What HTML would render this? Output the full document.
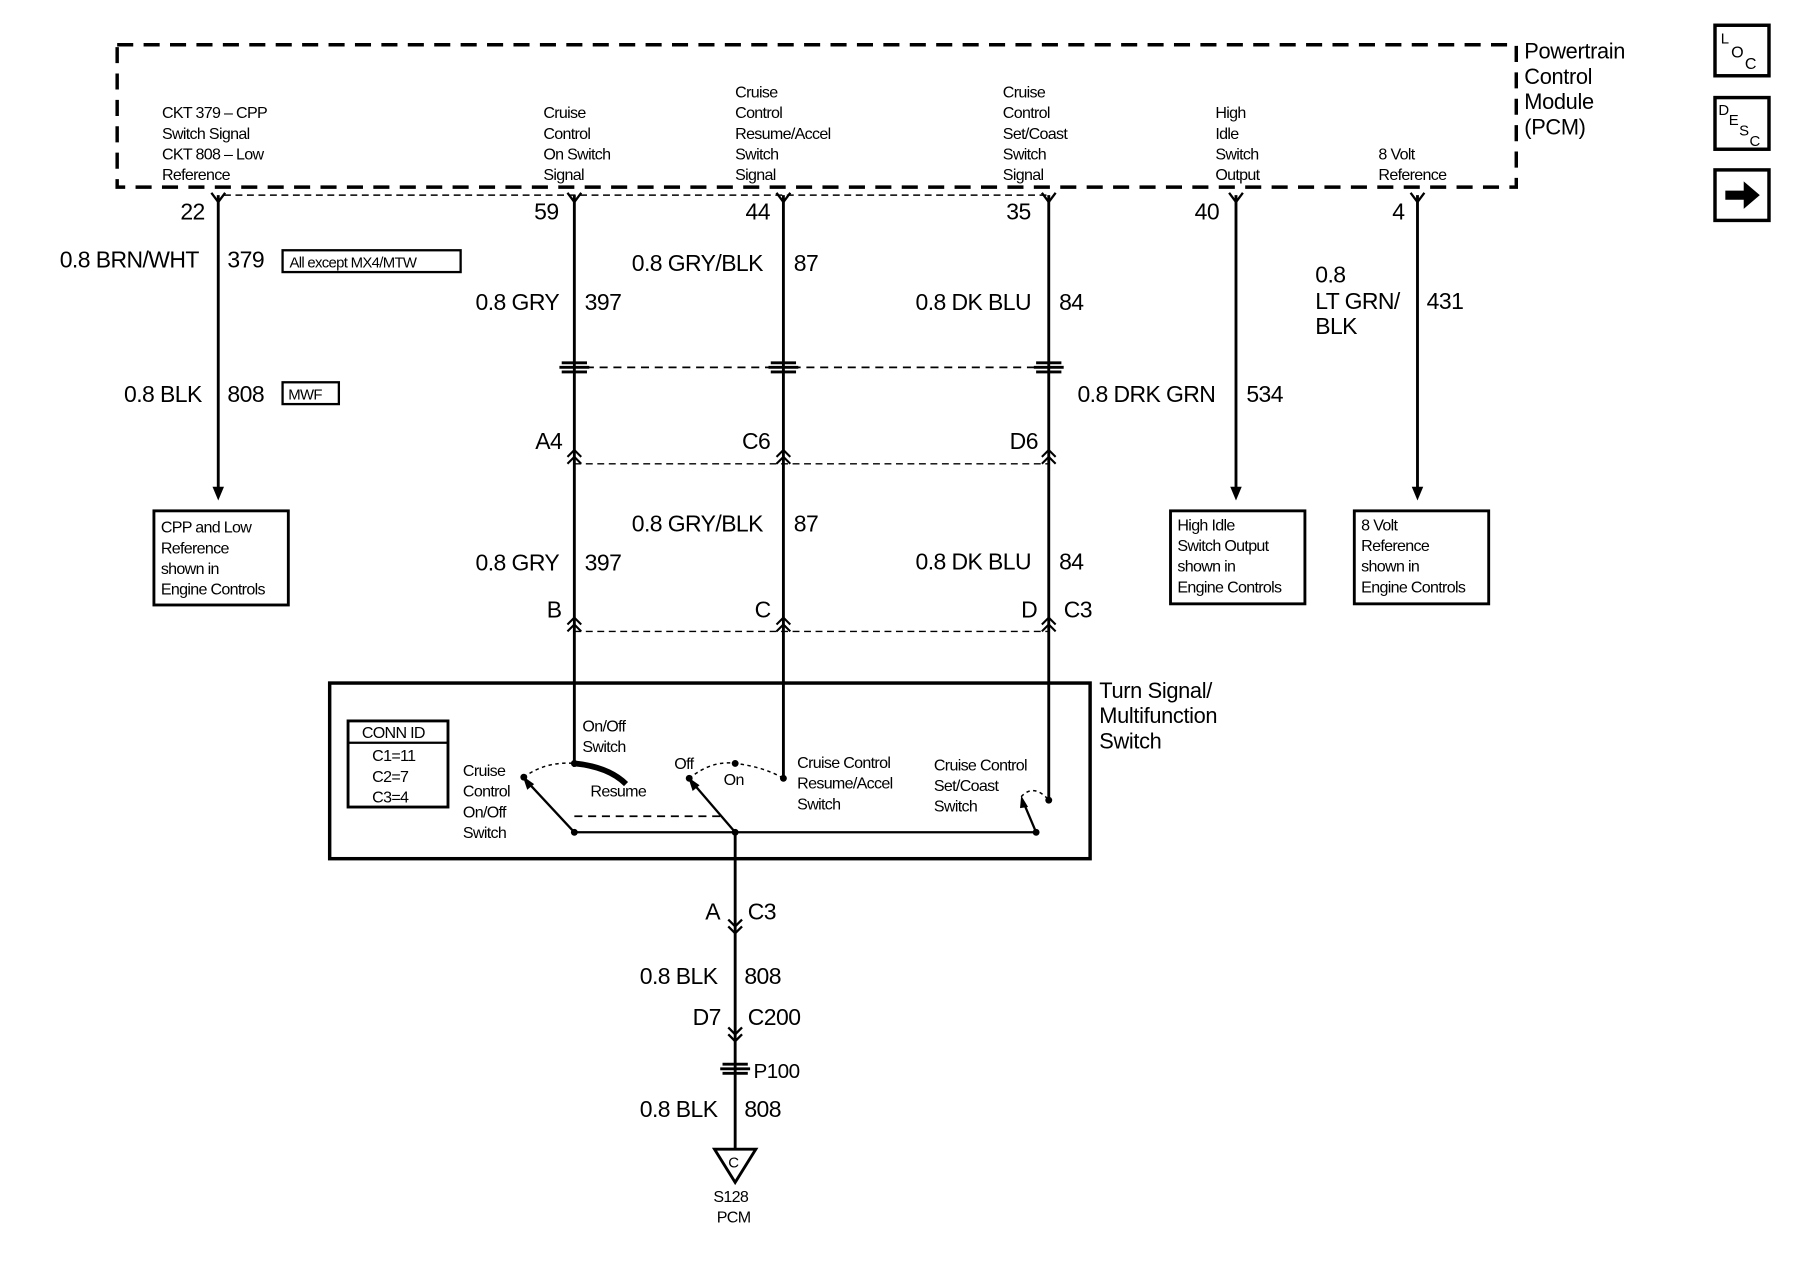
<!DOCTYPE html>
<html><head><meta charset="utf-8">
<style>
html,body{margin:0;padding:0;background:#fff;}
svg{display:block;}
text{font-family:"Liberation Sans",sans-serif;fill:#000;}
.s{font-size:14px;letter-spacing:-0.6px;}
.b{font-size:20px;letter-spacing:-0.5px;}
.m{font-size:19px;letter-spacing:-0.3px;}
</style></head><body>
<svg width="1800" height="1280" viewBox="0 0 1567 1115" preserveAspectRatio="none" xmlns="http://www.w3.org/2000/svg">
<g stroke="#000" fill="none">
<rect x="102" y="39" width="1218" height="124" stroke-width="3" stroke-dasharray="14,9"/>
<line x1="195" y1="170" x2="913" y2="170" stroke-width="1.3" stroke-dasharray="6,4"/>
<g stroke-width="2.5">
<line x1="190" y1="170" x2="190" y2="425"/>
<line x1="500" y1="170" x2="500" y2="395"/>
<line x1="682" y1="170" x2="682" y2="395"/>
<line x1="913" y1="170" x2="913" y2="395"/>
<line x1="1076" y1="170" x2="1076" y2="425"/>
<line x1="1234" y1="170" x2="1234" y2="425"/>
<line x1="500" y1="395" x2="500" y2="668"/>
<line x1="682" y1="395" x2="682" y2="678"/>
<line x1="913" y1="395" x2="913" y2="697"/>
<line x1="640" y1="725" x2="640" y2="1000"/>
</g>
<g stroke-width="2">
<path d="M184 168 L190 176 L196 168"/><path d="M494 168 L500 176 L506 168"/>
<path d="M676 168 L682 176 L688 168"/><path d="M907 168 L913 176 L919 168"/>
<path d="M1070 168 L1076 176 L1082 168"/><path d="M1228 168 L1234 176 L1240 168"/>
</g>
<line x1="510" y1="320" x2="902" y2="320" stroke-width="1.5" stroke-dasharray="7,5"/>
<g stroke-width="2.5">
<path d="M489 316 h22 M489 324 h22 M487 320 h26"/>
<path d="M671 316 h22 M671 324 h22 M669 320 h26"/>
<path d="M902 316 h22 M902 324 h22 M900 320 h26"/>
<path d="M629 927 h22 M629 935 h22 M627 931 h26"/>
</g>
<line x1="500" y1="404" x2="913" y2="404" stroke-width="1.2" stroke-dasharray="6,4"/>
<line x1="500" y1="550" x2="913" y2="550" stroke-width="1.2" stroke-dasharray="6,4"/>
<g stroke-width="1.8">
<path d="M494 398 L500 392 L506 398 M494 404 L500 398 L506 404"/>
<path d="M676 398 L682 392 L688 398 M676 404 L682 398 L688 404"/>
<path d="M907 398 L913 392 L919 398 M907 404 L913 398 L919 404"/>
<path d="M494 544 L500 538 L506 544 M494 550 L500 544 L506 550"/>
<path d="M676 544 L682 538 L688 544 M676 550 L682 544 L688 550"/>
<path d="M907 544 L913 538 L919 544 M907 550 L913 544 L919 550"/>
<path d="M634 801 L640 807 L646 801 M634 807 L640 813 L646 807" stroke-width="2"/>
<path d="M634 895 L640 901 L646 895 M634 901 L640 907 L646 901" stroke-width="2"/>
</g>
<g fill="#000" stroke="none">
<path d="M185 424 L195 424 L190 436Z"/><path d="M1071 424 L1081 424 L1076 436Z"/><path d="M1229 424 L1239 424 L1234 436Z"/>
</g>
<g stroke-width="2.5">
<rect x="134" y="445" width="117" height="82"/>
<rect x="1019" y="445" width="117" height="81"/>
<rect x="1179" y="445" width="117" height="81"/>
<rect x="246" y="218" width="155" height="19" stroke-width="2"/>
<rect x="246" y="333" width="49" height="19" stroke-width="2"/>
<rect x="287" y="595" width="662" height="153" stroke-width="3"/>
<rect x="303" y="628" width="87" height="75" stroke-width="2.5"/>
<line x1="303" y1="647" x2="390" y2="647" stroke-width="2"/>
</g>
<line x1="500" y1="725" x2="902" y2="725" stroke-width="2"/>
<line x1="500" y1="711" x2="632" y2="711" stroke-width="1.5" stroke-dasharray="7,5"/>
<path d="M456 677 Q475 663 500 665" stroke-width="1.3" stroke-dasharray="3,3"/>
<path d="M500 665 Q530 668 545 683" stroke-width="5"/>
<path d="M600 678 Q620 662 640 665 Q665 668 682 678" stroke-width="1.3" stroke-dasharray="3,3"/>
<path d="M889 694 Q900 682 913 697" stroke-width="1.3" stroke-dasharray="3,3"/>
<g stroke-width="2">
<line x1="500" y1="725" x2="460" y2="682"/>
<line x1="640" y1="725" x2="604" y2="683"/>
<line x1="902" y1="725" x2="891" y2="699"/>
</g>
<g fill="#000" stroke="none">
<path d="M455 676 L465 683 L459 688Z"/><path d="M599 677 L609 684 L603 689Z"/><path d="M889 693 L895 703 L888 704Z"/>
<circle cx="500" cy="725" r="3"/><circle cx="640" cy="725" r="3"/><circle cx="902" cy="725" r="3"/>
<circle cx="456" cy="677" r="3"/><circle cx="500" cy="665" r="3"/><circle cx="600" cy="678" r="3"/>
<circle cx="640" cy="665" r="3"/><circle cx="682" cy="678" r="3"/><circle cx="913" cy="697" r="3"/>
</g>
<path d="M622 1001 L658 1001 L640 1030Z" stroke-width="2.5"/>
<g stroke-width="3">
<rect x="1493" y="22" width="47" height="44"/>
<rect x="1493" y="85" width="47" height="45"/>
<rect x="1493" y="148" width="47" height="44"/>
</g>
<path d="M1502 166 h16 v-8 l14 12 l-14 12 v-8 h-16Z" fill="#000" stroke="none"/>
</g>

<text class="m" x="1327" y="51">Powertrain</text>
<text class="m" x="1327" y="73">Control</text>
<text class="m" x="1327" y="95">Module</text>
<text class="m" x="1327" y="117">(PCM)</text>
<g class="s">
<text x="141" y="103">CKT 379 – CPP</text><text x="141" y="121">Switch Signal</text>
<text x="141" y="139">CKT 808 – Low</text><text x="141" y="157">Reference</text>
<text x="473" y="103">Cruise</text><text x="473" y="121">Control</text><text x="473" y="139">On Switch</text><text x="473" y="157">Signal</text>
<text x="640" y="85">Cruise</text><text x="640" y="103">Control</text><text x="640" y="121">Resume/Accel</text><text x="640" y="139">Switch</text><text x="640" y="157">Signal</text>
<text x="873" y="85">Cruise</text><text x="873" y="103">Control</text><text x="873" y="121">Set/Coast</text><text x="873" y="139">Switch</text><text x="873" y="157">Signal</text>
<text x="1058" y="103">High</text><text x="1058" y="121">Idle</text><text x="1058" y="139">Switch</text><text x="1058" y="157">Output</text>
<text x="1200" y="139">8 Volt</text><text x="1200" y="157">Reference</text>
<text x="252" y="233" style="font-size:13px">All except MX4/MTW</text>
<text x="251" y="348" style="font-size:13px">MWF</text>
<text x="140" y="464">CPP and Low</text><text x="140" y="482">Reference</text><text x="140" y="500">shown in</text><text x="140" y="518">Engine Controls</text>
<text x="1025" y="462">High Idle</text><text x="1025" y="480">Switch Output</text><text x="1025" y="498">shown in</text><text x="1025" y="516">Engine Controls</text>
<text x="1185" y="462">8 Volt</text><text x="1185" y="480">Reference</text><text x="1185" y="498">shown in</text><text x="1185" y="516">Engine Controls</text>
<text x="315" y="643">CONN ID</text>
<text x="324" y="663">C1=11</text><text x="324" y="681">C2=7</text><text x="324" y="699">C3=4</text>
<text x="507" y="637">On/Off</text><text x="507" y="655">Switch</text>
<text x="514" y="694">Resume</text>
<text x="403" y="676">Cruise</text><text x="403" y="694">Control</text><text x="403" y="712">On/Off</text><text x="403" y="730">Switch</text>
<text x="587" y="670">Off</text><text x="630" y="684">On</text>
<text x="694" y="669">Cruise Control</text><text x="694" y="687">Resume/Accel</text><text x="694" y="705">Switch</text>
<text x="813" y="671">Cruise Control</text><text x="813" y="689">Set/Coast</text><text x="813" y="707">Switch</text>
<text x="621" y="1047">S128</text><text x="624" y="1065">PCM</text>
<text x="634" y="1017" style="font-size:13px">C</text>
</g>
<text class="m" x="957" y="608">Turn Signal/</text>
<text class="m" x="957" y="630">Multifunction</text>
<text class="m" x="957" y="652">Switch</text>
<text x="1498" y="38" style="font-size:13px">L</text><text x="1507" y="50" style="font-size:14px">O</text><text x="1519" y="60" style="font-size:14px">C</text>
<text x="1496" y="100" style="font-size:13px">D</text><text x="1505" y="109" style="font-size:13px">E</text><text x="1514" y="118" style="font-size:13px">S</text><text x="1523" y="127" style="font-size:13px">C</text>

<g class="b">
<text x="157" y="191">22</text><text x="465" y="191">59</text><text x="649" y="191">44</text>
<text x="876" y="191">35</text><text x="1040" y="191">40</text><text x="1212" y="191">4</text>
<text x="52" y="233">0.8 BRN/WHT</text><text x="198" y="233">379</text>
<text x="108" y="350">0.8 BLK</text><text x="198" y="350">808</text>
<text x="414" y="270">0.8 GRY</text><text x="509" y="270">397</text>
<text x="550" y="236">0.8 GRY/BLK</text><text x="691" y="236">87</text>
<text x="797" y="270">0.8 DK BLU</text><text x="922" y="270">84</text>
<text x="1145" y="246">0.8</text><text x="1145" y="269">LT GRN/</text><text x="1145" y="291">BLK</text><text x="1242" y="269">431</text>
<text x="938" y="350">0.8 DRK GRN</text><text x="1085" y="350">534</text>
<text x="466" y="391">A4</text><text x="646" y="391">C6</text><text x="879" y="391">D6</text>
<text x="550" y="463">0.8 GRY/BLK</text><text x="691" y="463">87</text>
<text x="414" y="497">0.8 GRY</text><text x="509" y="497">397</text>
<text x="797" y="496">0.8 DK BLU</text><text x="922" y="496">84</text>
<text x="476" y="538">B</text><text x="657" y="538">C</text><text x="889" y="538">D</text><text x="926" y="538">C3</text>
<text x="614" y="801">A</text><text x="651" y="801">C3</text>
<text x="557" y="857">0.8 BLK</text><text x="648" y="857">808</text>
<text x="603" y="893">D7</text><text x="651" y="893">C200</text>
<text x="656" y="939" style="font-size:18px">P100</text>
<text x="557" y="973">0.8 BLK</text><text x="648" y="973">808</text>
</g>
</svg>
</body></html>
